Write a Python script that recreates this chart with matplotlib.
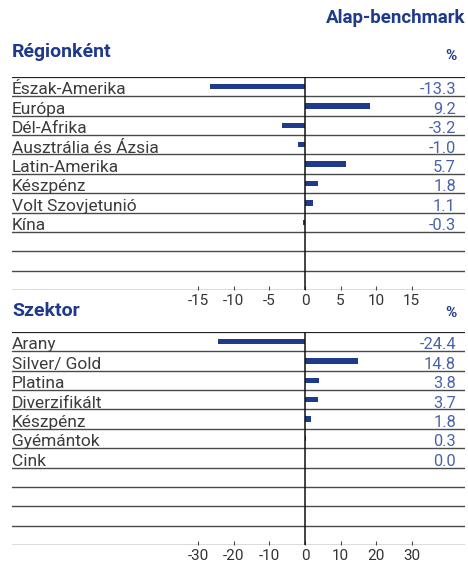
import matplotlib
matplotlib.use("Agg")
import matplotlib.pyplot as plt
from matplotlib.transforms import blended_transform_factory

region_labels = ["Észak-Amerika", "Európa", "Dél-Afrika", "Ausztrália és Ázsia",
                 "Latin-Amerika", "Készpénz", "Volt Szovjetunió", "Kína"]
region_values = [-13.3, 9.2, -3.2, -1.0, 5.7, 1.8, 1.1, -0.3]
region_ticks = [-15, -10, -5, 0, 5, 10, 15]

sector_labels = ["Arany", "Silver/ Gold", "Platina", "Diverzifikált",
                 "Készpénz", "Gyémántok", "Cink"]
sector_values = [-24.4, 14.8, 3.8, 3.7, 1.8, 0.3, 0.0]
sector_ticks = [-30, -20, -10, 0, 10, 20, 30]

W, H = 468, 562
NAVY = "#1f3a8a"
VALBLUE = "#4a62aa"
TITLE = "#1f3a8a"
TXT = "#3c3c3c"
LINE = "#4a4a4a"
FONT = "Roboto"

fig = plt.figure(figsize=(W / 100, H / 100), dpi=100)
fig.patch.set_facecolor("white")


def fx(px):
    return px / W


def fy(py):
    return 1 - py / H


def panel(top_px, bot_px, labels, values, ticks, unit_px):
    n_rows = 11
    left_px, right_px, zero_px = 12, 465, 305
    ax = fig.add_axes([fx(left_px), fy(bot_px), fx(right_px) - fx(left_px),
                       (bot_px - top_px) / H])
    ax.set_xlim((left_px - zero_px) / unit_px, (right_px - zero_px) / unit_px)
    ax.set_ylim(n_rows - 0.5, -0.5)
    for s in ax.spines.values():
        s.set_visible(False)
    ax.set_yticks([])
    ax.barh(range(len(values)), values, height=0.28, color=NAVY, zorder=3)
    for i in range(n_rows + 1):
        y = i - 0.5
        if i == 0:
            ax.axhline(y, color="#222222", lw=1.6, zorder=2)
        else:
            ax.axhline(y, color=LINE, lw=1.0, zorder=2)
    ax.axvline(0, color="#111111", lw=1.1, zorder=4)
    ax.set_xticks(ticks)
    ax.set_xticklabels([str(t) for t in ticks])
    ax.tick_params(axis="x", direction="in", length=3, width=0.8, color=LINE,
                   pad=3, labelsize=11, labelcolor="#333333")
    for lab in ax.get_xticklabels():
        lab.set_fontfamily(FONT)
    tr = blended_transform_factory(ax.transAxes, ax.transData)
    for i, (lab, v) in enumerate(zip(labels, values)):
        ax.text(0.0, i + 0.40, lab, transform=tr, ha="left", va="baseline",
                fontsize=12.5, color=TXT, family=FONT, fontweight="normal")
        ax.text((456 - left_px) / (right_px - left_px), i + 0.40, f"{v:.1f}",
                transform=tr, ha="right", va="baseline", fontsize=11.8,
                color=VALBLUE, family=FONT, fontweight="normal")
    return ax


panel(77, 290, region_labels, region_values, region_ticks, 106.7 / 15)
panel(332, 545, sector_labels, sector_values, sector_ticks, 106.7 / 30)

fig.text(fx(465), fy(18), "Alap-benchmark", ha="right", va="center",
         fontsize=13.5, fontweight="semibold", color=TITLE, family=FONT)
fig.text(fx(12), fy(52), "Régionként", ha="left", va="center",
         fontsize=14, fontweight="semibold", color=TITLE, family=FONT)
fig.text(fx(457), fy(56), "%", ha="right", va="center",
         fontsize=11, fontweight="bold", color=TITLE, family=FONT)
fig.text(fx(12), fy(311), "Szektor", ha="left", va="center",
         fontsize=14, fontweight="semibold", color=TITLE, family=FONT)
fig.text(fx(457), fy(313), "%", ha="right", va="center",
         fontsize=11, fontweight="bold", color=TITLE, family=FONT)

fig.savefig("out.png", dpi=100)
